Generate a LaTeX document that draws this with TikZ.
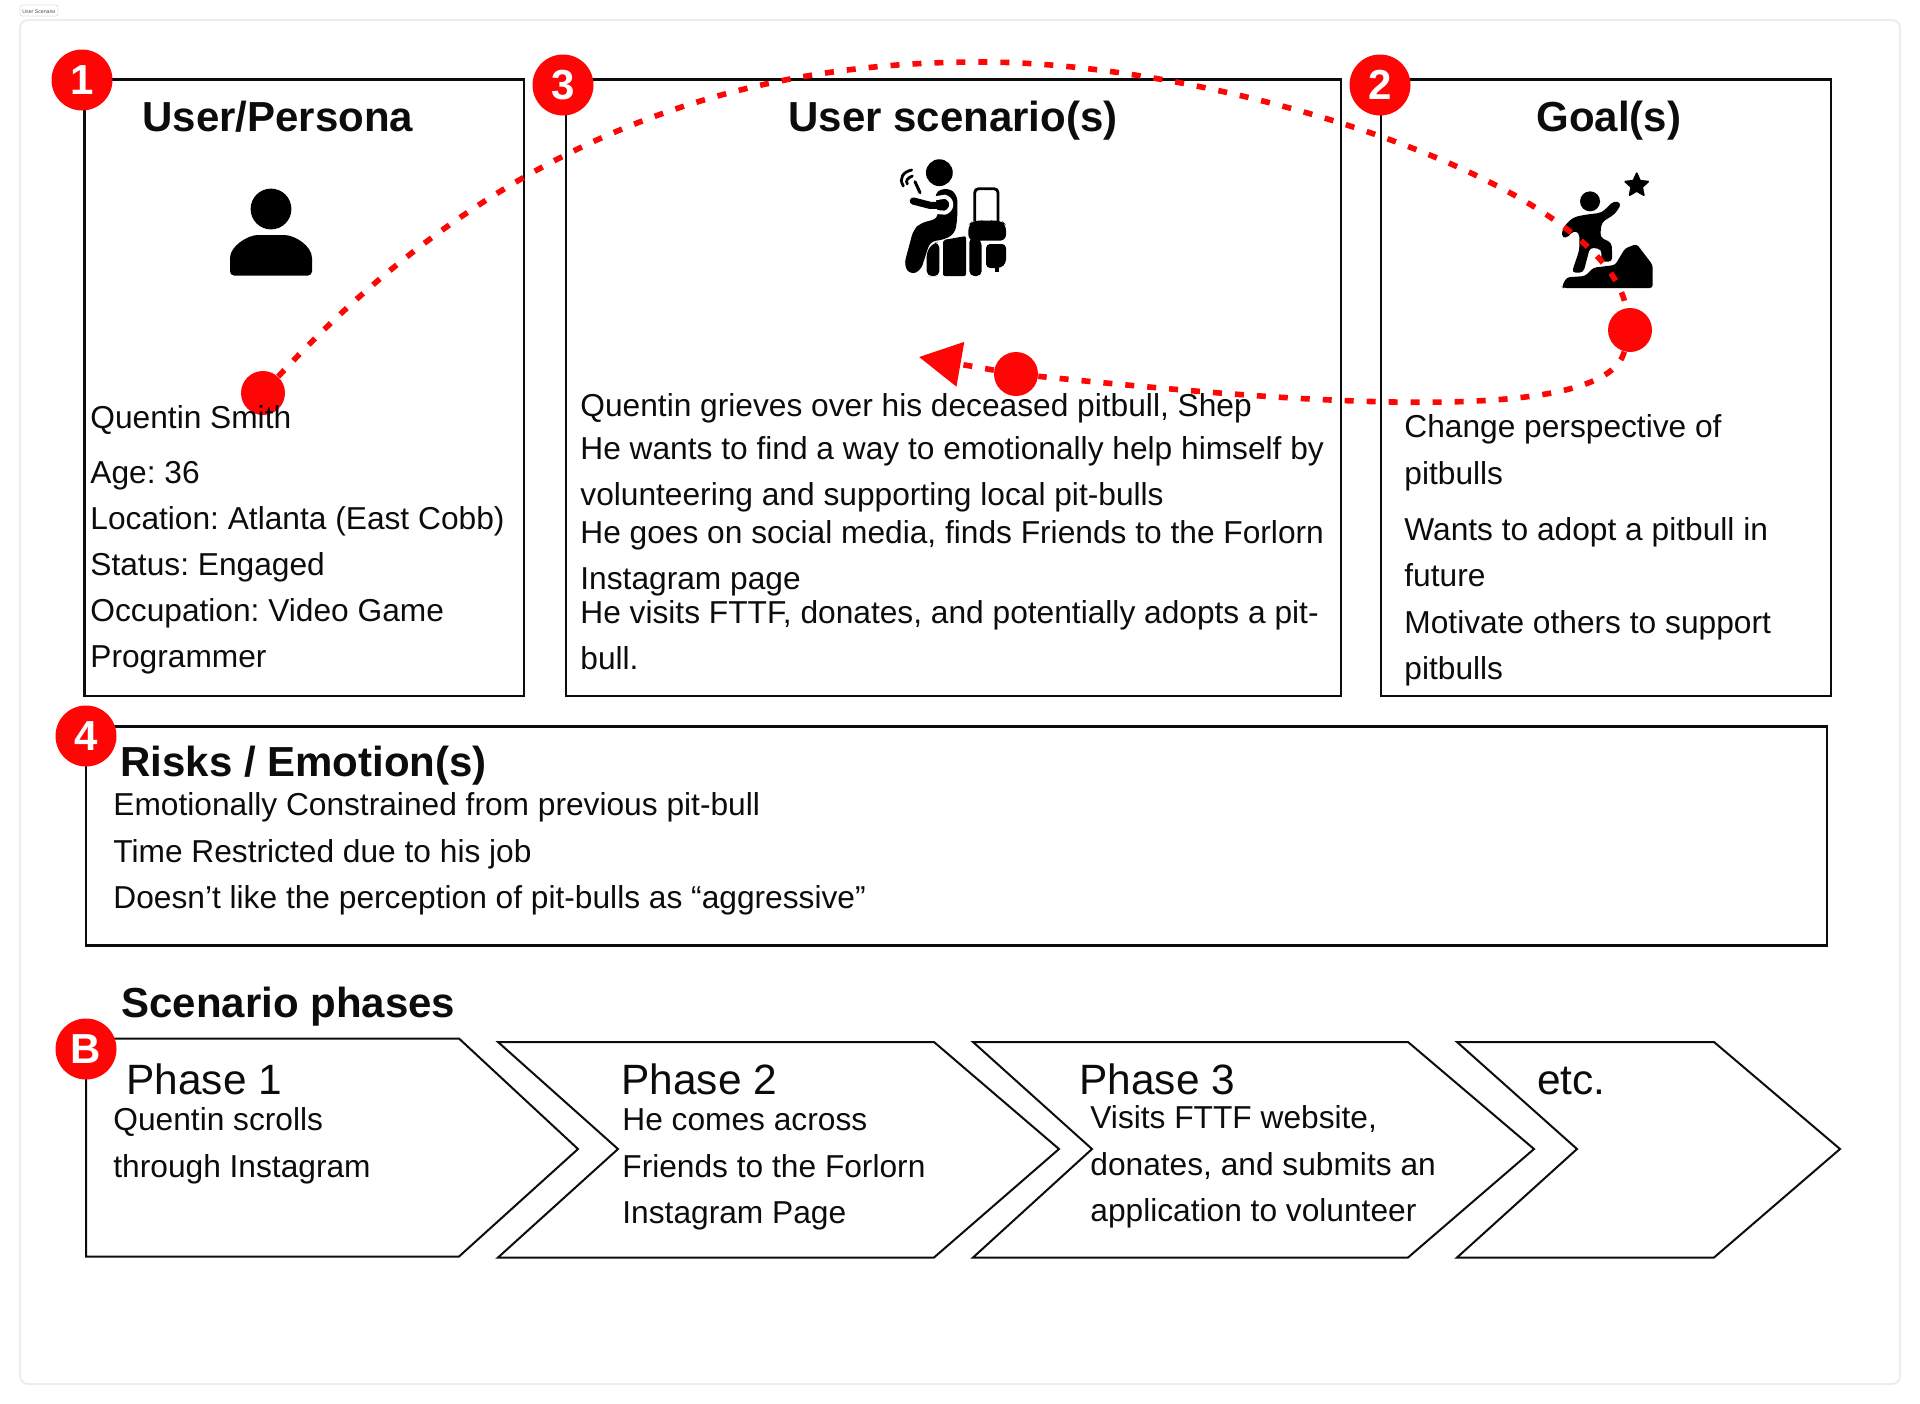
\documentclass[tikz,border=0pt]{standalone}
\usepackage{fontspec}
\setmainfont{Liberation Sans}
\frenchspacing
\usetikzlibrary{arrows.meta}
\definecolor{markred}{RGB}{254,6,6}
\definecolor{inkblack}{RGB}{12,12,12}
\begin{document}
\begin{tikzpicture}[x=0.5pt,y=-0.5pt,
box_style/.style={draw=inkblack,line width=1.2pt},
phase_style/.style={draw=inkblack,line width=1pt,line join=miter},
title_style/.style={anchor=base west,inner sep=0pt,text=inkblack,font=\fontsize{21}{25}\selectfont\bfseries},
head_style/.style={anchor=base west,inner sep=0pt,text=inkblack,font=\fontsize{21.2}{25}\selectfont},
body_style/.style={anchor=base west,inner sep=0pt,text=inkblack,font=\fontsize{15.85}{18}\selectfont},
badge_style/.style={circle,fill=markred,text=white,inner sep=0pt,minimum size=30.5pt,font=\fontsize{21}{25}\selectfont\bfseries},
dot_style/.style={circle,fill=markred,inner sep=0pt,minimum size=22pt},
dash_style/.style={draw=markred,line width=2.8pt,dash pattern=on 4.5pt off 6.5pt}]
\useasboundingbox (0,0) rectangle (1920,1403);

% page frame and tab
\draw[black!7,line width=1pt,rounded corners=4pt] (20,20) rectangle (1900,1384);
\draw[black!12,line width=0.4pt,rounded corners=1pt] (20,5) rectangle (58,16);
\node[anchor=base west,inner sep=0pt,text=black!70,font=\fontsize{2.6}{3}\selectfont] (tab) at (22,13) {User Scenario};

% boxes
\draw[box_style] (84.5,79.5) rectangle (524,696);
\draw[box_style] (566,79.5) rectangle (1341,696);
\draw[box_style] (1381,79.5) rectangle (1831,696);
\draw[box_style] (86,726.5) rectangle (1827,945.5);

% phases
\draw[phase_style] (86,1038.5) -- (459,1038.5) -- (578,1149) -- (459,1256.5) -- (86,1256.5) -- cycle;
\draw[phase_style] (498,1042) -- (934,1042) -- (1059,1149) -- (934,1257.5) -- (498,1257.5) -- (618,1149) -- cycle;
\draw[phase_style] (973,1042) -- (1408,1042) -- (1534,1149) -- (1408,1257.5) -- (973,1257.5) -- (1092,1149) -- cycle;
\draw[phase_style] (1457,1042) -- (1714,1042) -- (1840,1149) -- (1714,1257.5) -- (1457,1257.5) -- (1577,1149) -- cycle;

% user icon
\fill (271,209) circle (10.2pt);
\fill[rounded corners=2pt] (230,275.5) -- (230,262) .. controls (230,246) and (248,235) .. (262,235) -- (280,235) .. controls (295,235) and (312,246) .. (312,262) -- (312,275.5) -- cycle;

% traveller icon
\begin{scope}[shift={(880,150)},x=0.1667pt,y=-0.1667pt]
\fill (178,68) circle (6.7pt);
\fill[rounded corners=3pt] (165,125) -- (205,113) -- (232,135) -- (232,205) -- (225,250) -- (195,268) -- (150,275) -- (122,362) -- (90,374) -- (72,345) -- (100,240) -- (120,220) -- (175,205) -- cycle;
\draw[white,line width=2pt,line cap=round,line join=round] (135,138) -- (165,145) -- (195,140) .. controls (222,150) and (218,180) .. (195,188) -- (130,183);
\draw[black,line width=3.6pt,line cap=round,line join=round] (100,153) -- (150,166) -- (185,166);
\draw[black,line width=1.5pt,line cap=round] (120,128) -- (105,95);
\draw[black,line width=1.4pt,line cap=round] (82,102) .. controls (76,92) and (82,84) .. (97,78);
\draw[black,line width=1.4pt,line cap=round] (70,108) .. controls (55,85) and (70,65) .. (95,60);
\draw[black,line width=1.4pt,rounded corners=2pt] (284,215) -- (284,116) -- (354,116) -- (354,215);
\fill[rounded corners=3pt] (265,272) -- (265,225) -- (278,212) -- (365,212) -- (378,225) -- (378,272) -- cycle;
\draw[black,line width=1.2pt] (303,212) arc (180:0:17);
\fill[rounded corners=2pt] (318,282) -- (378,282) -- (378,340) -- (362,354) -- (318,354) -- cycle;
\fill (344,350) rectangle (358,366);
\fill[rounded corners=2.5pt] (156,378) -- (140,378) -- (140,305) -- (160,278) -- (178,278) -- (178,378) -- cycle;
\fill[rounded corners=1pt] (189,270) -- (258,258) -- (258,378) -- (189,378) -- cycle;
\fill[rounded corners=2.5pt] (268,262) -- (292,262) -- (305,275) -- (305,378) -- (268,378) -- cycle;
\end{scope}

% climber icon
\begin{scope}[shift={(1540,160)},x=0.1667pt,y=-0.1667pt]
\fill (150,124) circle (5pt);
\fill[rounded corners=2pt] (75,195) -- (100,172) -- (130,165) -- (185,158) -- (222,122) -- (245,130) -- (225,162) -- (185,187) -- (180,232) -- (215,248) -- (217,305) -- (183,305) -- (185,268) -- (150,262) -- (130,338) -- (95,338) -- (118,270) -- (118,218) -- (100,212) -- (78,237) -- (62,225) -- cycle;
\fill[rounded corners=1.5pt] (65,380) -- (80,352) -- (135,348) -- (160,323) -- (225,315) -- (255,265) -- (290,252) -- (338,315) -- (338,384) -- (70,384) -- cycle;
\fill[draw=black,line width=0.9pt,line join=round,shift={(290,76)}] (-90:36) -- (-54:17) -- (-18:36) -- (18:17) -- (54:36) -- (90:17) -- (126:36) -- (162:17) -- (198:36) -- (234:17) -- cycle;
\end{scope}

% red route
\node[dot_style] (dot_user) at (263,393) {};
\node[dot_style] (dot_scenario) at (1016,374) {};
\node[dot_style] (dot_goal) at (1630,330) {};
\coordinate (route_top) at (980,62);
\coordinate (route_tip) at (919,357);
\draw[dash_style] (dot_user) .. controls (514,122) and (760,62) .. (route_top) .. controls (1225,62) and (1604,184) .. (dot_goal);
\draw[dash_style] (dot_goal) .. controls (1604,428) and (1290,402) .. (dot_scenario);
\draw[dash_style,-{Triangle[length=21pt,width=22pt,sep=0pt]}] (dot_scenario) -- (route_tip);

% badges
\node[badge_style] (badge_one) at (82,80) {1};
\node[badge_style] (badge_three) at (563,85) {3};
\node[badge_style] (badge_two) at (1380,85) {2};
\node[badge_style] (badge_four) at (86,736) {4};
\node[badge_style] (badge_b) at (86,1049) {B};

% titles
\node[title_style] (title_user) at (142,131) {User/Persona};
\node[title_style] (title_scenario) at (788,131) {User scenario(s)};
\node[title_style] (title_goal) at (1536,131) {Goal(s)};
\node[title_style] (title_risks) at (120,776) {Risks / Emotion(s)};
\node[title_style] (title_phases) at (121,1017) {Scenario phases};

% user lines
\node[body_style] (user_a) at (90,428) {Quentin Smith};
\node[body_style] (user_b) at (90,483) {Age: 36};
\node[body_style] (user_c) at (90,529) {Location: Atlanta (East Cobb)};
\node[body_style] (user_d) at (90,575) {Status: Engaged};
\node[body_style] (user_e) at (90,621) {Occupation: Video Game};
\node[body_style] (user_f) at (90,667) {Programmer};

% scenario lines
\node[body_style] (scenario_a) at (580,416) {Quentin grieves over his deceased pitbull, Shep};
\node[body_style] (scenario_b) at (580,459) {He wants to find a way to emotionally help himself by};
\node[body_style] (scenario_c) at (580,505) {volunteering and supporting local pit-bulls};
\node[body_style] (scenario_d) at (580,543) {He goes on social media, finds Friends to the Forlorn};
\node[body_style] (scenario_e) at (580,589) {Instagram page};
\node[body_style] (scenario_f) at (580,623) {He visits FTTF, donates, and potentially adopts a pit-};
\node[body_style] (scenario_g) at (580,669) {bull.};

% goal lines
\node[body_style] (goal_a) at (1404,437) {Change perspective of};
\node[body_style] (goal_b) at (1404,484) {pitbulls};
\node[body_style] (goal_c) at (1404,540) {Wants to adopt a pitbull in};
\node[body_style] (goal_d) at (1404,586) {future};
\node[body_style] (goal_e) at (1404,633) {Motivate others to support};
\node[body_style] (goal_f) at (1404,679) {pitbulls};

% risk lines
\node[body_style] (risk_a) at (113,815) {Emotionally Constrained from previous pit-bull};
\node[body_style] (risk_b) at (113,862) {Time Restricted due to his job};
\node[body_style] (risk_c) at (113,908) {Doesn’t like the perception of pit-bulls as “aggressive”};

% phase lines
\node[head_style] (phase_one) at (126,1094) {Phase 1};
\node[head_style] (phase_two) at (621,1094) {Phase 2};
\node[head_style] (phase_three) at (1079,1094) {Phase 3};
\node[head_style] (phase_etc) at (1537,1094) {etc.};
\node[body_style] (one_a) at (113,1130) {Quentin scrolls};
\node[body_style] (one_b) at (113,1177) {through Instagram};
\node[body_style] (two_a) at (622,1130) {He comes across};
\node[body_style] (two_b) at (622,1177) {Friends to the Forlorn};
\node[body_style] (two_c) at (622,1223) {Instagram Page};
\node[body_style] (three_a) at (1090,1128) {Visits FTTF website,};
\node[body_style] (three_b) at (1090,1175) {donates, and submits an};
\node[body_style] (three_c) at (1090,1221) {application to volunteer};
\end{tikzpicture}
\end{document}
